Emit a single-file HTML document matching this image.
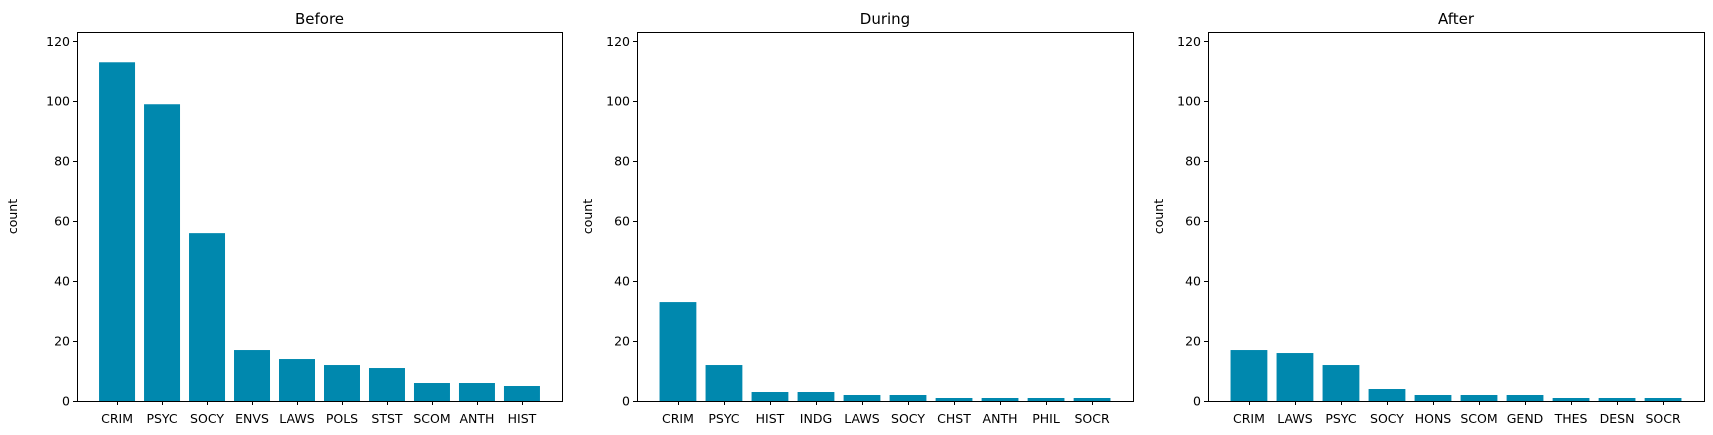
<!DOCTYPE html>
<html><head><meta charset="utf-8"><style>
body{margin:0;background:#fff;}
svg{display:block;font-family:"DejaVu Sans","Liberation Sans",sans-serif;}
</style></head><body>
<svg id="chart" width="1713" height="435" xmlns="http://www.w3.org/2000/svg"></svg>
<script>
const titles = ["Before","During","After"];
const catsBefore = ["CRIM","PSYC","SOCY","ENVS","LAWS","POLS","STST","SCOM","ANTH","HIST"];
const valsBefore = [113,99,56,17,14,12,11,6,6,5];
const catsDuring = ["CRIM","PSYC","HIST","INDG","LAWS","SOCY","CHST","ANTH","PHIL","SOCR"];
const valsDuring = [33,12,3,3,2,2,1,1,1,1];
const catsAfter = ["CRIM","LAWS","PSYC","SOCY","HONS","SCOM","GEND","THES","DESN","SOCR"];
const valsAfter = [17,16,12,4,2,2,2,1,1,1];
const yTicks = [0,20,40,60,80,100,120];
const yMax = 123.1;

const svg = document.getElementById('chart');
const NS = "http://www.w3.org/2000/svg";
function mk(tag, attrs, parent){
  const e = document.createElementNS(NS, tag);
  for (const k in attrs) e.setAttribute(k, attrs[k]);
  (parent||svg).appendChild(e);
  return e;
}
const panels = [
  {left:77, w:485, lab:60, cats:catsBefore, vals:valsBefore},
  {left:637, w:496, lab:45, cats:catsDuring, vals:valsDuring},
  {left:1208, w:496, lab:45, cats:catsAfter, vals:valsAfter}
];
const axTop = 32, axBottom = 401;
panels.forEach((p, pi) => {
  const W = p.w;
  const g = mk('g', {});
  
  
  const n = p.cats.length;
  const x0 = -0.4 - 0.05*(n-0.2), x1 = n-0.6 + 0.05*(n-0.2);
  const xs = v => p.left + (v - x0) / (x1 - x0) * W;
  const ys = v => axBottom - v / yMax * (axBottom - axTop);
  p.vals.forEach((v, i) => {
    const r = mk('rect', {x: xs(i-0.4), y: ys(v), width: xs(i+0.4)-xs(i-0.4), height: axBottom - ys(v), fill: '#0088ae'}, g);
    
    
    const tx = Math.round(xs(i)) + 0.5;
    mk('line', {x1: tx, x2: tx, y1: axBottom, y2: axBottom+4, stroke:'#000', 'stroke-width':1}, g);
    const t = mk('text', {x: xs(i), y: axBottom+22, 'text-anchor':'middle', 'font-size':'12.5', fill:'#000'}, g);
    t.textContent = p.cats[i];
    
    
  });
  yTicks.forEach(v => {
    const ty = Math.round(ys(v)) + 0.5;
    mk('line', {x1: p.left-4, x2: p.left, y1: ty, y2: ty, stroke:'#000', 'stroke-width':1}, g);
    const t = mk('text', {x: p.left-7, y: ys(v)+4.5, 'text-anchor':'end', 'font-size':'12.5', fill:'#000'}, g);
    t.textContent = v;
    
    
  });
  const fr = mk('rect', {x: p.left+0.5, y: axTop+0.5, width: W, height: axBottom-axTop, fill:'none', stroke:'#000', 'stroke-width':1}, g);
  
  
  const tt = mk('text', {x: p.left + W/2, y: axTop-8, 'text-anchor':'middle', 'font-size':'15', fill:'#000'}, g);
  tt.textContent = titles[pi];
  
  
  const yl = mk('text', {x: 0, y: 0, 'text-anchor':'middle', 'font-size':'12.5', fill:'#000', transform: `translate(${p.left-p.lab},${(axTop+axBottom)/2}) rotate(-90)`}, g);
  yl.textContent = 'count';
  
  
});
</script>
</body></html>
